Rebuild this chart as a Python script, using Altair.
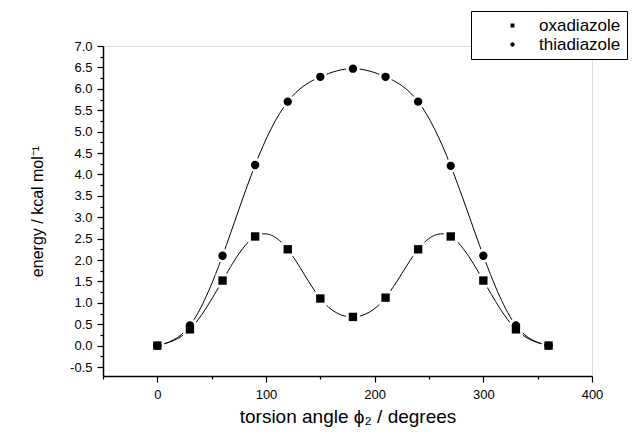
import altair as alt
import pandas as pd

angles = [0, 30, 60, 90, 120, 150, 180, 210, 240, 270, 300, 330, 360]
oxadiazole = [0.0, 0.38, 1.52, 2.55, 2.25, 1.10, 0.67, 1.12, 2.25, 2.55, 1.52, 0.38, 0.0]
thiadiazole = [0.0, 0.47, 2.10, 4.22, 5.70, 6.28, 6.47, 6.28, 5.70, 4.20, 2.10, 0.47, 0.0]
series_names = ["oxadiazole", "thiadiazole"]
series_shapes = ["square", "circle"]

x_ticks = [-50, 0, 50, 100, 150, 200, 250, 300, 350, 400]
y_ticks = [v / 4 for v in range(-2, 29)]

rows = []
for a, o, t in zip(angles, oxadiazole, thiadiazole):
    rows.append({"angle": a, "energy": o, "series": series_names[0]})
    rows.append({"angle": a, "energy": t, "series": series_names[1]})
df = pd.DataFrame(rows)

FONT = "Liberation Sans"

x_axis = alt.Axis(
    values=x_ticks,
    labelExpr="datum.value % 100 === 0 ? datum.label : ''",
    tickSize={"condition": {"test": "abs(datum.value % 100) < 0.01", "value": 6}, "value": 3},
    title="torsion angle ϕ₂ / degrees",
    grid=False,
    domainColor="black",
    domainWidth=1.5,
    tickColor="black",
    tickWidth=1.2,
    labelFont=FONT,
    labelFontSize=13,
    labelColor="black",
    labelPadding=6,
    labelOverlap=False,
    labelFlush=False,
    titleFont=FONT,
    titleFontSize=19,
    titleFontWeight="normal",
    titleColor="black",
    titlePadding=6,
)
y_axis = alt.Axis(
    values=y_ticks,
    labelExpr="abs(datum.value*2 - round(datum.value*2)) < 0.001 ? (datum.value < 0 ? '-' + format(-datum.value, '.1f') : format(datum.value, '.1f')) : ''",
    tickSize={"condition": {"test": "abs(datum.value*2 - round(datum.value*2)) < 0.001", "value": 6}, "value": 3},
    title="energy / kcal mol⁻¹",
    grid=False,
    domainColor="black",
    domainWidth=1.5,
    tickColor="black",
    tickWidth=1.2,
    labelFont=FONT,
    labelFontSize=13,
    labelColor="black",
    labelPadding=5,
    labelOverlap=False,
    labelFlush=False,
    labelBound=False,
    titleFont=FONT,
    titleFontSize=16,
    titleFontWeight="normal",
    titleColor="black",
    titlePadding=24,
)

x_scale = alt.Scale(domain=[-50, 400], nice=False, zero=False)
y_scale = alt.Scale(domain=[-0.71, 7.0], nice=False, zero=False)

def X():
    return alt.X("angle:Q", scale=x_scale, axis=x_axis)

def Y():
    return alt.Y("energy:Q", scale=y_scale, axis=y_axis)

base = alt.Chart(df)

lines = base.mark_line(interpolate="natural", color="black", strokeWidth=1).encode(
    x=X(), y=Y(), detail="series:N"
)

halo_layers = []
point_layers = []
for name, shp in zip(series_names, series_shapes):
    sub = base.transform_filter(alt.datum.series == name)
    halo_layers.append(
        sub.mark_point(filled=True, color="white", opacity=1, shape=shp, size=190).encode(x=X(), y=Y())
    )
    point_layers.append(
        sub.mark_point(filled=True, color="black", opacity=1, shape=shp, size=70).encode(x=X(), y=Y())
    )

sq_path = "M0.3,0H3.05M4.15,0H6.9M3.34,-0.26H3.86V0.26H3.34Z"
ci_path = "M0.3,0H3.05M4.15,0H6.9M3.31,0A0.29,0.29 0 1,0 3.89,0A0.29,0.29 0 1,0 3.31,0Z"

legend_layer = base.mark_point(
    filled=False, fill="black", stroke="black", opacity=1, fillOpacity=1, clip=True, strokeWidth=1
).encode(
    x=alt.value(-500),
    y=alt.value(-500),
    shape=alt.Shape(
        "series:N",
        scale=alt.Scale(domain=series_names, range=[sq_path, ci_path]),
        legend=alt.Legend(
            title=None,
            orient="none",
            legendX=368,
            legendY=-35,
            strokeColor="black",
            fillColor="white",
            padding=6,
            symbolSize=225,
            symbolStrokeColor="black",
            symbolFillColor="black",
            symbolStrokeWidth=1,
            symbolOpacity=1,
            labelOffset=45,
            labelFont=FONT,
            labelFontSize=17,
            labelColor="black",
            rowPadding=1,
        ),
    ),
    size=alt.value(225),
)

chart = (
    alt.layer(lines, *halo_layers, *point_layers, legend_layer)
    .properties(
        width=489,
        height=330,
        padding={"left": 95, "top": 38, "right": 36, "bottom": 56},
        autosize=alt.AutoSizeParams(type="none"),
    )
    .configure_view(stroke=None)
    .configure(background="white")
)

chart.save("out.html", embed_options={"renderer": "svg", "actions": False})
